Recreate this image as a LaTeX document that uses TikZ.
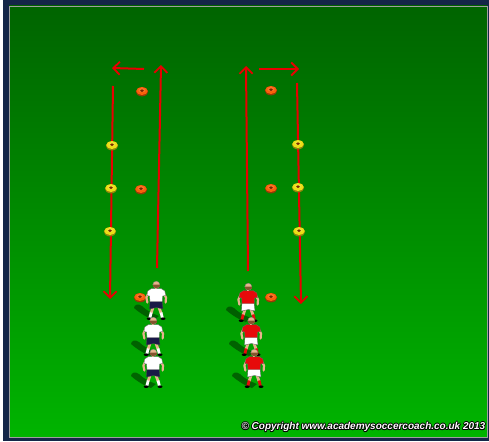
\documentclass[tikz,border=0pt]{standalone}
\usepackage{fontspec}
\newfontfamily\credfont{Liberation Sans}
\usetikzlibrary{arrows.meta}

\definecolor{navyframe}{RGB}{20,38,72}
\definecolor{fieldtop}{RGB}{0,100,0}
\definecolor{fieldbot}{RGB}{0,180,0}
\definecolor{runred}{RGB}{232,0,0}
\definecolor{coneorange}{RGB}{250,96,10}
\definecolor{coneyellow}{RGB}{236,222,20}
\definecolor{conehole}{RGB}{120,40,0}
\definecolor{skin}{RGB}{232,180,140}
\definecolor{hair}{RGB}{130,85,45}
\definecolor{navyshorts}{RGB}{25,25,70}
\definecolor{kitred}{RGB}{230,10,10}
\definecolor{shadowgreen}{RGB}{0,55,0}

% Draws one player seen from behind, feet at the origin.
% #1 shirt, #2 shorts, #3 socks
\newcommand\drawplayer[3]{%
  \fill[shadowgreen,opacity=0.6] (-2,1) .. controls (-8,-1) and (-15,-5) .. (-22,-11)
     .. controls (-22,-14) and (-18,-16) .. (-14,-13)
     .. controls (-10,-9) and (-5,-6) .. (3,-3) -- cycle;
  % legs: thighs, then socks
  \draw[skin,line width=2.8pt,line cap=round] (-3.2,-11) -- (-4.8,-6);
  \draw[skin,line width=2.8pt,line cap=round] (3.2,-11) -- (5,-6);
  \draw[#3,line width=2.8pt] (-4.8,-6.5) -- (-6.2,-1);
  \draw[#3,line width=2.8pt] (5,-6.5) -- (6.4,-1);
  \fill[black] (-6.8,-0.3) ellipse (2.5 and 1.3);
  \fill[black] (7,-0.3) ellipse (2.5 and 1.3);
  % arms
  \draw[skin,line width=2.2pt,line cap=round] (-7,-27) -- (-9.6,-21.5) -- (-8.6,-16.5);
  \draw[skin,line width=2.2pt,line cap=round] (7,-27) -- (10,-21.5) -- (9.6,-16.5);
  % shorts
  \filldraw[fill=#2,draw=black!70,line width=0.3pt]
     (-6,-18.5) -- (6,-18.5) -- (7,-10) -- (0.5,-11.5) -- (-6.6,-10) -- cycle;
  % shirt
  \filldraw[fill=#1,draw=black!60,line width=0.3pt]
     (-4.5,-30.5) -- (5,-30.5) -- (8.8,-28) -- (9.6,-23.5) -- (6.6,-23)
     -- (6.2,-17.5) -- (-6,-17.5) -- (-6.4,-23) -- (-9,-23.5) -- (-8.2,-28) -- cycle;
  % head
  \fill[skin] (0.9,-30) rectangle (-1,-32);
  \filldraw[fill=skin,draw=black!50,line width=0.3pt] (0.3,-34.3) circle (3.5);
  \fill[hair] (0.3,-34.3) ++(-3.5,0) arc (180:0:3.5) -- cycle;
  \fill[hair] (-3.2,-34.4) rectangle (3.8,-32.4);
}

\tikzset{
  run/.style={draw=runred,line width=2pt,
    -{Straight Barb[length=6.5pt,width=13pt,line width=1.8pt]}},
  cone/.pic={
    \fill[#1!60!black] (0,0.8) ellipse (6.2 and 4.6);
    \fill[#1] (0,0) ellipse (5.7 and 4);
    \fill[#1!88!white] (0,-0.8) ellipse (3.6 and 2.2);
    \fill[conehole] (0,-0.3) ellipse (1.9 and 1.4);
  },
  whiteplayer/.pic={\drawplayer{white}{navyshorts}{white}},
  redplayer/.pic={\drawplayer{kitred}{white}{kitred}},
  credit/.style={font=\credfont\bfseries\itshape\fontsize{10}{12}\selectfont,
    inner sep=0pt,anchor=east},
}

\begin{document}
\begin{tikzpicture}[x=1pt,y=-1pt]
  \useasboundingbox (0,0) rectangle (489,441);
  % frame and pitch
  \fill[white] (0,0) rectangle (489,441);
  \fill[navyframe] (3,0) rectangle (489,441);
  \shade[top color=fieldtop,bottom color=fieldbot] (9,6) rectangle (487,437);
  \draw[gray!75,line width=0.7pt] (9,6) rectangle (487,437);

  % run endpoints, left channel
  \coordinate (lh0) at (144,69);  \coordinate (lh1) at (112,68);
  \coordinate (lu0) at (157,268); \coordinate (lu1) at (161,65);
  \coordinate (ld0) at (113,86);  \coordinate (ld1) at (110,299);
  % run endpoints, right channel
  \coordinate (rh0) at (259,69);  \coordinate (rh1) at (299,69);
  \coordinate (ru0) at (248,271); \coordinate (ru1) at (246,66);
  \coordinate (rd0) at (297,83);  \coordinate (rd1) at (301,304);

  \draw[run] (lh0) -- (lh1);
  \draw[run] (lu0) -- (lu1);
  \draw[run] (ld0) -- (ld1);
  \draw[run] (rh0) -- (rh1);
  \draw[run] (ru0) -- (ru1);
  \draw[run] (rd0) -- (rd1);

  % cones
  \pic at (142,91)  {cone=coneorange};
  \pic at (141,189) {cone=coneorange};
  \pic at (140,297) {cone=coneorange};
  \pic at (112,145) {cone=coneyellow};
  \pic at (111,188) {cone=coneyellow};
  \pic at (110,231) {cone=coneyellow};
  \pic at (271,90)  {cone=coneorange};
  \pic at (271,188) {cone=coneorange};
  \pic at (271,297) {cone=coneorange};
  \pic at (298,144) {cone=coneyellow};
  \pic at (298,187) {cone=coneyellow};
  \pic at (299,231) {cone=coneyellow};

  % players
  \pic at (156,319) {whiteplayer};
  \pic at (153,355) {whiteplayer};
  \pic at (153,387) {whiteplayer};
  \pic at (248,321) {redplayer};
  \pic at (251,355) {redplayer};
  \pic at (254,387) {redplayer};

  % credit line, white letters with a dark outline
  \foreach \dx/\dy in {-0.7/0,0.7/0,0/-0.7,0/0.7,-0.5/-0.5,0.5/0.5,-0.5/0.5,0.5/-0.5}
    \node[credit,text=black] at (485.5+\dx,427+\dy) {© Copyright www.academysoccercoach.co.uk 2013};
  \node[credit,text=white] (credit) at (485.5,427) {© Copyright www.academysoccercoach.co.uk 2013};
\end{tikzpicture}
\end{document}
